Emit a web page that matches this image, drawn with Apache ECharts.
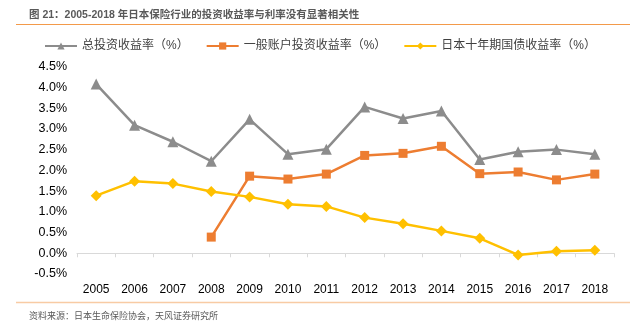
<!DOCTYPE html>
<html>
<head>
<meta charset="utf-8">
<script src="https://cdn.jsdelivr.net/npm/echarts@6/dist/echarts.min.js"></script>
<style>html,body{margin:0;padding:0;background:#fff;}#c{width:630px;height:323px;}</style>
</head>
<body>
<div id="c"></div>
<script>
const categories = ['2005','2006','2007','2008','2009','2010','2011','2012','2013','2014','2015','2016','2017','2018'];
const totalReturn = [4.08, 3.09, 2.69, 2.22, 3.23, 2.39, 2.51, 3.53, 3.25, 3.43, 2.26, 2.45, 2.50, 2.39];
const generalAccount = [null, null, null, 0.39, 1.86, 1.79, 1.91, 2.36, 2.41, 2.58, 1.92, 1.96, 1.77, 1.91];
const jgb10y = [1.39, 1.74, 1.68, 1.49, 1.36, 1.18, 1.13, 0.86, 0.71, 0.54, 0.36, -0.04, 0.05, 0.07];
const seriesNames = ['总投资收益率（%）', '一般账户投资收益率（%）', '日本十年期国债收益率（%）'];
const titleText = '图 21：2005-2018 年日本保险行业的投资收益率与利率没有显著相关性';
const sourceText = '资料来源：日本生命保险协会，天风证券研究所';

const chart = echarts.init(document.getElementById('c'), null, {renderer: 'canvas'});
const FONT = '"Liberation Sans", Arial, "Noto Sans CJK SC", sans-serif';
chart.setOption({
  animation: false,
  backgroundColor: '#fff',
  title: [
    {text: titleText, left: 24, top: 5, textStyle: {fontSize: 10.5, fontWeight: 'bold', color: '#595959', fontFamily: FONT}},
    {text: sourceText, left: 24, top: 307, textStyle: {fontSize: 9, fontWeight: 'normal', color: '#595959', fontFamily: FONT}}
  ],
  graphic: [
    {type: 'line', shape: {x1: 16, y1: 24.5, x2: 630, y2: 24.5}, style: {stroke: '#f39a4a', lineWidth: 1.2}},
    {type: 'line', shape: {x1: 16, y1: 302.5, x2: 630, y2: 302.5}, style: {stroke: '#f8cba4', lineWidth: 1.5}}
  ],
  legend: {
    top: 35, left: 39,
    itemWidth: 32, itemHeight: 9, itemGap: 17,
    textStyle: {fontSize: 12, color: '#404040', fontFamily: FONT},
    data: seriesNames
  },
  grid: {left: 77, right: 16, top: 66.7, bottom: 49, containLabel: false},
  xAxis: {
    type: 'category', data: categories, boundaryGap: true,
    axisLine: {onZero: true, lineStyle: {color: '#d9d9d9', width: 1}},
    axisTick: {show: true, length: 4, lineStyle: {color: '#d9d9d9'}},
    axisLabel: {margin: 10, fontSize: 12, color: '#000', fontFamily: FONT}
  },
  yAxis: {
    type: 'value', min: -0.5, max: 4.5, interval: 0.5,
    splitLine: {show: false},
    axisLine: {show: false}, axisTick: {show: false},
    axisLabel: {margin: 10, fontSize: 12.5, color: '#000', fontFamily: FONT,
      formatter: v => v.toFixed(1) + '%'}
  },
  series: [
    {name: seriesNames[0], type: 'line', data: totalReturn, symbol: 'triangle', symbolSize: 11,
     lineStyle: {color: '#8c8c8c', width: 2.5}, itemStyle: {color: '#8c8c8c'}},
    {name: seriesNames[1], type: 'line', data: generalAccount, symbol: 'rect', symbolSize: 9,
     lineStyle: {color: '#ed7d31', width: 2.5}, itemStyle: {color: '#ed7d31'}},
    {name: seriesNames[2], type: 'line', data: jgb10y, symbol: 'diamond', symbolSize: 11,
     lineStyle: {color: '#ffc000', width: 2.5}, itemStyle: {color: '#ffc000'}}
  ]
});
</script>
</body>
</html>
